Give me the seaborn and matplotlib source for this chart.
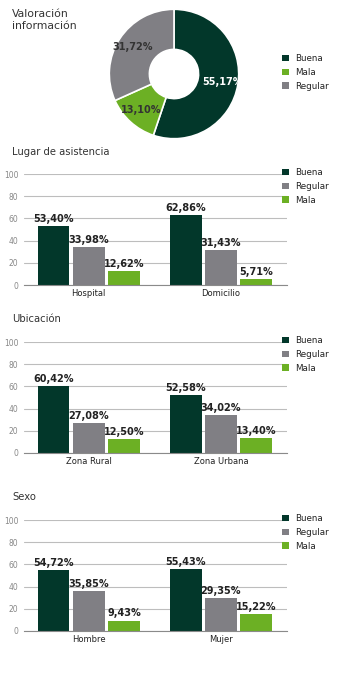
import matplotlib
matplotlib.use("Agg")
import matplotlib.pyplot as plt
import seaborn as sns
import pandas as pd
from matplotlib.patches import Patch

sns.set_theme(style="white")
plt.rcParams['font.family'] = ['DejaVu Sans']

# ---------------- data ----------------
pie_labels = ["Buena", "Mala", "Regular"]
pie_values = [55.17, 13.10, 31.72]

ratings = ["Buena", "Regular", "Mala"]

lugar_cats = ["Hospital", "Domicilio"]
lugar_buena = [53.40, 62.86]
lugar_regular = [33.98, 31.43]
lugar_mala = [12.62, 5.71]

ubic_cats = ["Zona Rural", "Zona Urbana"]
ubic_buena = [60.42, 52.58]
ubic_regular = [27.08, 34.02]
ubic_mala = [12.50, 13.40]

sexo_cats = ["Hombre", "Mujer"]
sexo_buena = [54.72, 55.43]
sexo_regular = [35.85, 29.35]
sexo_mala = [9.43, 15.22]

titles = ["Lugar de asistencia", "Ubicación", "Sexo"]
yticks = [0, 20, 40, 60, 80, 100]

# ---------------- style ----------------
colors = {"Buena": "#02372a", "Regular": "#807f84", "Mala": "#6cb024"}
W, H = 351, 682
fig = plt.figure(figsize=(W / 100, H / 100), dpi=100)
fig.patch.set_facecolor("white")


def px_axes(left, top, width, height):
    return fig.add_axes([left / W, 1 - (top + height) / H, width / W, height / H])


def fmt(v):
    return f"{v:.2f}".replace(".", ",") + "%"


def add_legend(labels, top):
    handles = [Patch(facecolor=colors[l], edgecolor="none") for l in labels]
    fig.legend(handles, labels, loc="upper left", bbox_to_anchor=(282 / W, 1 - top / H),
               frameon=False, fontsize=6.3, handlelength=0.75, handleheight=0.75,
               handletextpad=0.8, labelspacing=0.55, borderaxespad=0, borderpad=0,
               labelcolor="#222222")


# ---------------- pie ----------------
axp = px_axes(108, 8, 132, 132)
vals_iter = iter(pie_values)
wedges, texts, autotexts = axp.pie(
    pie_values, colors=[colors[l] for l in pie_labels], startangle=90,
    counterclock=False, radius=1.0, pctdistance=0.76,
    autopct=lambda p: fmt(next(vals_iter)),
    wedgeprops=dict(width=0.62, edgecolor="white", linewidth=1.2),
    textprops=dict(fontsize=7, fontweight="bold", color="#333333"))
autotexts[0].set_color("white")
axp.set_xlim(-1.02, 1.02)
axp.set_ylim(-1.02, 1.02)
fig.text(12 / W, 1 - 9 / H, "Valoración\ninformación", fontsize=7.8, color="#333333",
         va="top", ha="left", linespacing=1.2)
add_legend(pie_labels, 54)

# ---------------- bar charts ----------------
blocks = [
    (lugar_cats, lugar_buena, lugar_regular, lugar_mala, 174, 152),
    (ubic_cats, ubic_buena, ubic_regular, ubic_mala, 342, 319),
    (sexo_cats, sexo_buena, sexo_regular, sexo_mala, 520, 497),
]

for (cats, b, r, m, top, ty), title in zip(blocks, titles):
    df = pd.DataFrame({
        "cat": cats * 3,
        "rating": ["Buena"] * 2 + ["Regular"] * 2 + ["Mala"] * 2,
        "value": b + r + m,
    })
    ax = px_axes(24, top, 263, 111)
    sns.barplot(data=df, x="cat", y="value", hue="rating", hue_order=ratings,
                order=cats, palette=colors, width=0.8, gap=0.1, ax=ax,
                saturation=1, legend=False, edgecolor="none")
    for cont, vals in zip(ax.containers, [b, r, m]):
        ax.bar_label(cont, labels=[fmt(v) for v in vals], padding=1.5,
                     fontsize=7, fontweight="bold", color="#222222")
    ax.set_ylim(0, 100)
    ax.set_xlim(-0.49, 1.5)
    ax.set_yticks(yticks)
    ax.set_xlabel("")
    ax.set_ylabel("")
    ax.yaxis.grid(True, color="#bdbdbd", linewidth=0.8)
    ax.set_axisbelow(True)
    for s in ["left", "right", "top"]:
        ax.spines[s].set_visible(False)
    ax.spines["bottom"].set_color("#8a8a8a")
    ax.spines["bottom"].set_linewidth(0.8)
    ax.tick_params(axis="y", length=0, pad=4, labelsize=5.5, labelcolor="#888888")
    ax.tick_params(axis="x", length=0, pad=3, labelsize=6, labelcolor="#222222")
    fig.text(12 / W, 1 - ty / H, title, fontsize=7.2, color="#333333", va="center", ha="left")
    add_legend(ratings, top - 6)

fig.savefig("out.png", dpi=100, facecolor="white")
